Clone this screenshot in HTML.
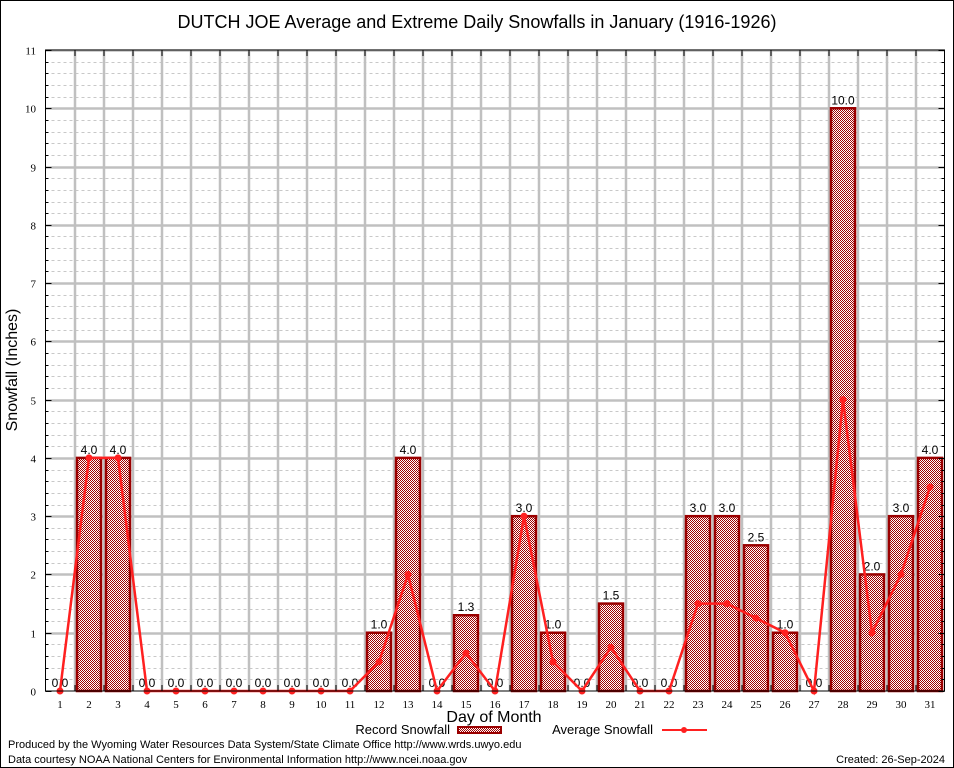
<!DOCTYPE html>
<html><head><meta charset="utf-8"><style>
body{margin:0;background:#fff;width:954px;height:768px;overflow:hidden}
svg{display:block;font-family:"Liberation Sans","DejaVu Sans",sans-serif}
</style></head><body>
<svg id="chart" width="954" height="768" viewBox="0 0 954 768">
<defs>
<pattern id="hatch" width="2" height="2" patternUnits="userSpaceOnUse">
<rect width="2" height="2" fill="#fff"/><rect width="1" height="1" fill="#a00000"/><rect x="1" y="1" width="1" height="1" fill="#a00000"/>
</pattern>
</defs>
<rect x="0.5" y="0.5" width="953" height="767" fill="#fff" stroke="#000"/>
<text x="477" y="28" text-anchor="middle" font-size="18">DUTCH JOE Average and Extreme Daily Snowfalls in January (1916-1926)</text>
<g id="grid"></g>
<g id="bars"></g>
<g id="line"></g>
<g id="axes"></g>
<text transform="translate(17,370) rotate(-90)" text-anchor="middle" font-size="16">Snowfall (Inches)</text>
<text x="494" y="722" text-anchor="middle" font-size="16">Day of Month</text>
<g>
<text x="450" y="734" text-anchor="end" font-size="13">Record Snowfall</text>
<rect x="458" y="727" width="43" height="6" fill="url(#hatch)" stroke="#9a0000" stroke-width="2"/>
</g>
<g>
<text x="653" y="734" text-anchor="end" font-size="13">Average Snowfall</text>
<line x1="662" y1="730" x2="707" y2="730" stroke="#ff2020" stroke-width="2"/>
<circle cx="684" cy="730" r="3" fill="#ff2020"/>
</g>
<text x="8" y="748" font-size="11">Produced by the Wyoming Water Resources Data System/State Climate Office http://www.wrds.uwyo.edu</text>
<text x="8" y="763" font-size="11">Data courtesy NOAA National Centers for Environmental Information http://www.ncei.noaa.gov</text>
<text x="945" y="763" text-anchor="end" font-size="11">Created:  26-Sep-2024</text>
</svg>
<script>
const days = [1,2,3,4,5,6,7,8,9,10,11,12,13,14,15,16,17,18,19,20,21,22,23,24,25,26,27,28,29,30,31];
const recordSnow = [0,4,4,0,0,0,0,0,0,0,0,1,4,0,1.3,0,3,1,0,1.5,0,0,3,3,2.5,1,0,10,2,3,4];
const avgSnow = [0,4,4,0,0,0,0,0,0,0,0,0.5,2,0,0.65,0,3,0.5,0,0.75,0,0,1.5,1.5,1.25,1,0,5,1,2,3.5];
const yTicks = [0,1,2,3,4,5,6,7,8,9,10,11];

const L=45.5,R=944.5,T=50,B=691;
const x=d=>L+(d-0.5)*(R-L)/31;
const y=v=>B-v*(B-T)/11;
const NS="http://www.w3.org/2000/svg";
function mk(parent,tag,attrs){const e=document.createElementNS(NS,tag);for(const k in attrs)e.setAttribute(k,attrs[k]);parent.appendChild(e);return e;}
const grid=document.getElementById('grid'),bars=document.getElementById('bars'),line=document.getElementById('line'),axes=document.getElementById('axes');

for(let i=1;i<55;i++){if(i%5===0)continue;const yy=Math.round(y(i/5))+0.5;
const g=mk(grid,'line',{x1:L,x2:R,y1:yy,y2:yy,stroke:'#c8c8c8','stroke-dasharray':'3,3','stroke-width':1});

}
yTicks.forEach(t=>{if(t===0)return;const yy=Math.round(y(t))+0.5;
const g=mk(grid,'line',{x1:L,x2:R,y1:yy,y2:yy,stroke:'#c0c0c0','stroke-width':2.5});

});
for(let d=1;d<31;d++){const xx=Math.round(x(d+0.5));
const g=mk(grid,'line',{x1:xx,x2:xx,y1:T,y2:B,stroke:'#c0c0c0','stroke-width':2.5});

}

days.forEach((d,i)=>{const v=recordSnow[i];const cx=x(d);
if(v>0){const r=mk(bars,'rect',{x:cx-12,y:y(v),width:24,height:B-y(v),fill:'url(#hatch)',stroke:'#9a0000','stroke-width':2.5});

}
const t=mk(bars,'text',{x:cx,y:y(v)-4,'text-anchor':'middle','font-size':12});
t.textContent=v.toFixed(1);

});

const pts=days.map((d,i)=>x(d)+','+y(avgSnow[i])).join(' ');
const pl=mk(line,'polyline',{points:pts,fill:'none',stroke:'#ff2020','stroke-width':2.5});


days.forEach((d,i)=>{const c=mk(line,'circle',{cx:x(d),cy:y(avgSnow[i]),r:3.5,fill:'#ff2020'});

});

const fr=mk(axes,'rect',{x:L,y:T,width:R-L,height:B-T,fill:'none',stroke:'#000','stroke-width':1});


yTicks.forEach(t=>{const yy=Math.round(y(t))+0.5;
mk(axes,'line',{x1:L,x2:L+6,y1:yy,y2:yy,stroke:'#000'});
mk(axes,'line',{x1:R-6,x2:R,y1:yy,y2:yy,stroke:'#000'});
const tx=mk(axes,'text',{x:36,y:yy+4,'text-anchor':'end','font-size':11,'font-family':'Liberation Serif, serif'});
tx.textContent=t;

});
for(let i=1;i<55;i++){if(i%5===0)continue;const yy=Math.round(y(i/5))+0.5;
mk(axes,'line',{x1:L,x2:L+3,y1:yy,y2:yy,stroke:'#000'});
mk(axes,'line',{x1:R-3,x2:R,y1:yy,y2:yy,stroke:'#000'});}
for(let d=1;d<31;d++){const xx=Math.round(x(d+0.5));
mk(axes,'line',{x1:xx,x2:xx,y1:B-6,y2:B,stroke:'#000'});
mk(axes,'line',{x1:xx,x2:xx,y1:T,y2:T+6,stroke:'#000'});}
days.forEach(d=>{const tx=mk(axes,'text',{x:x(d),y:708,'text-anchor':'middle','font-size':11,'font-family':'Liberation Serif, serif'});
tx.textContent=d;

});
</script>
</body></html>
